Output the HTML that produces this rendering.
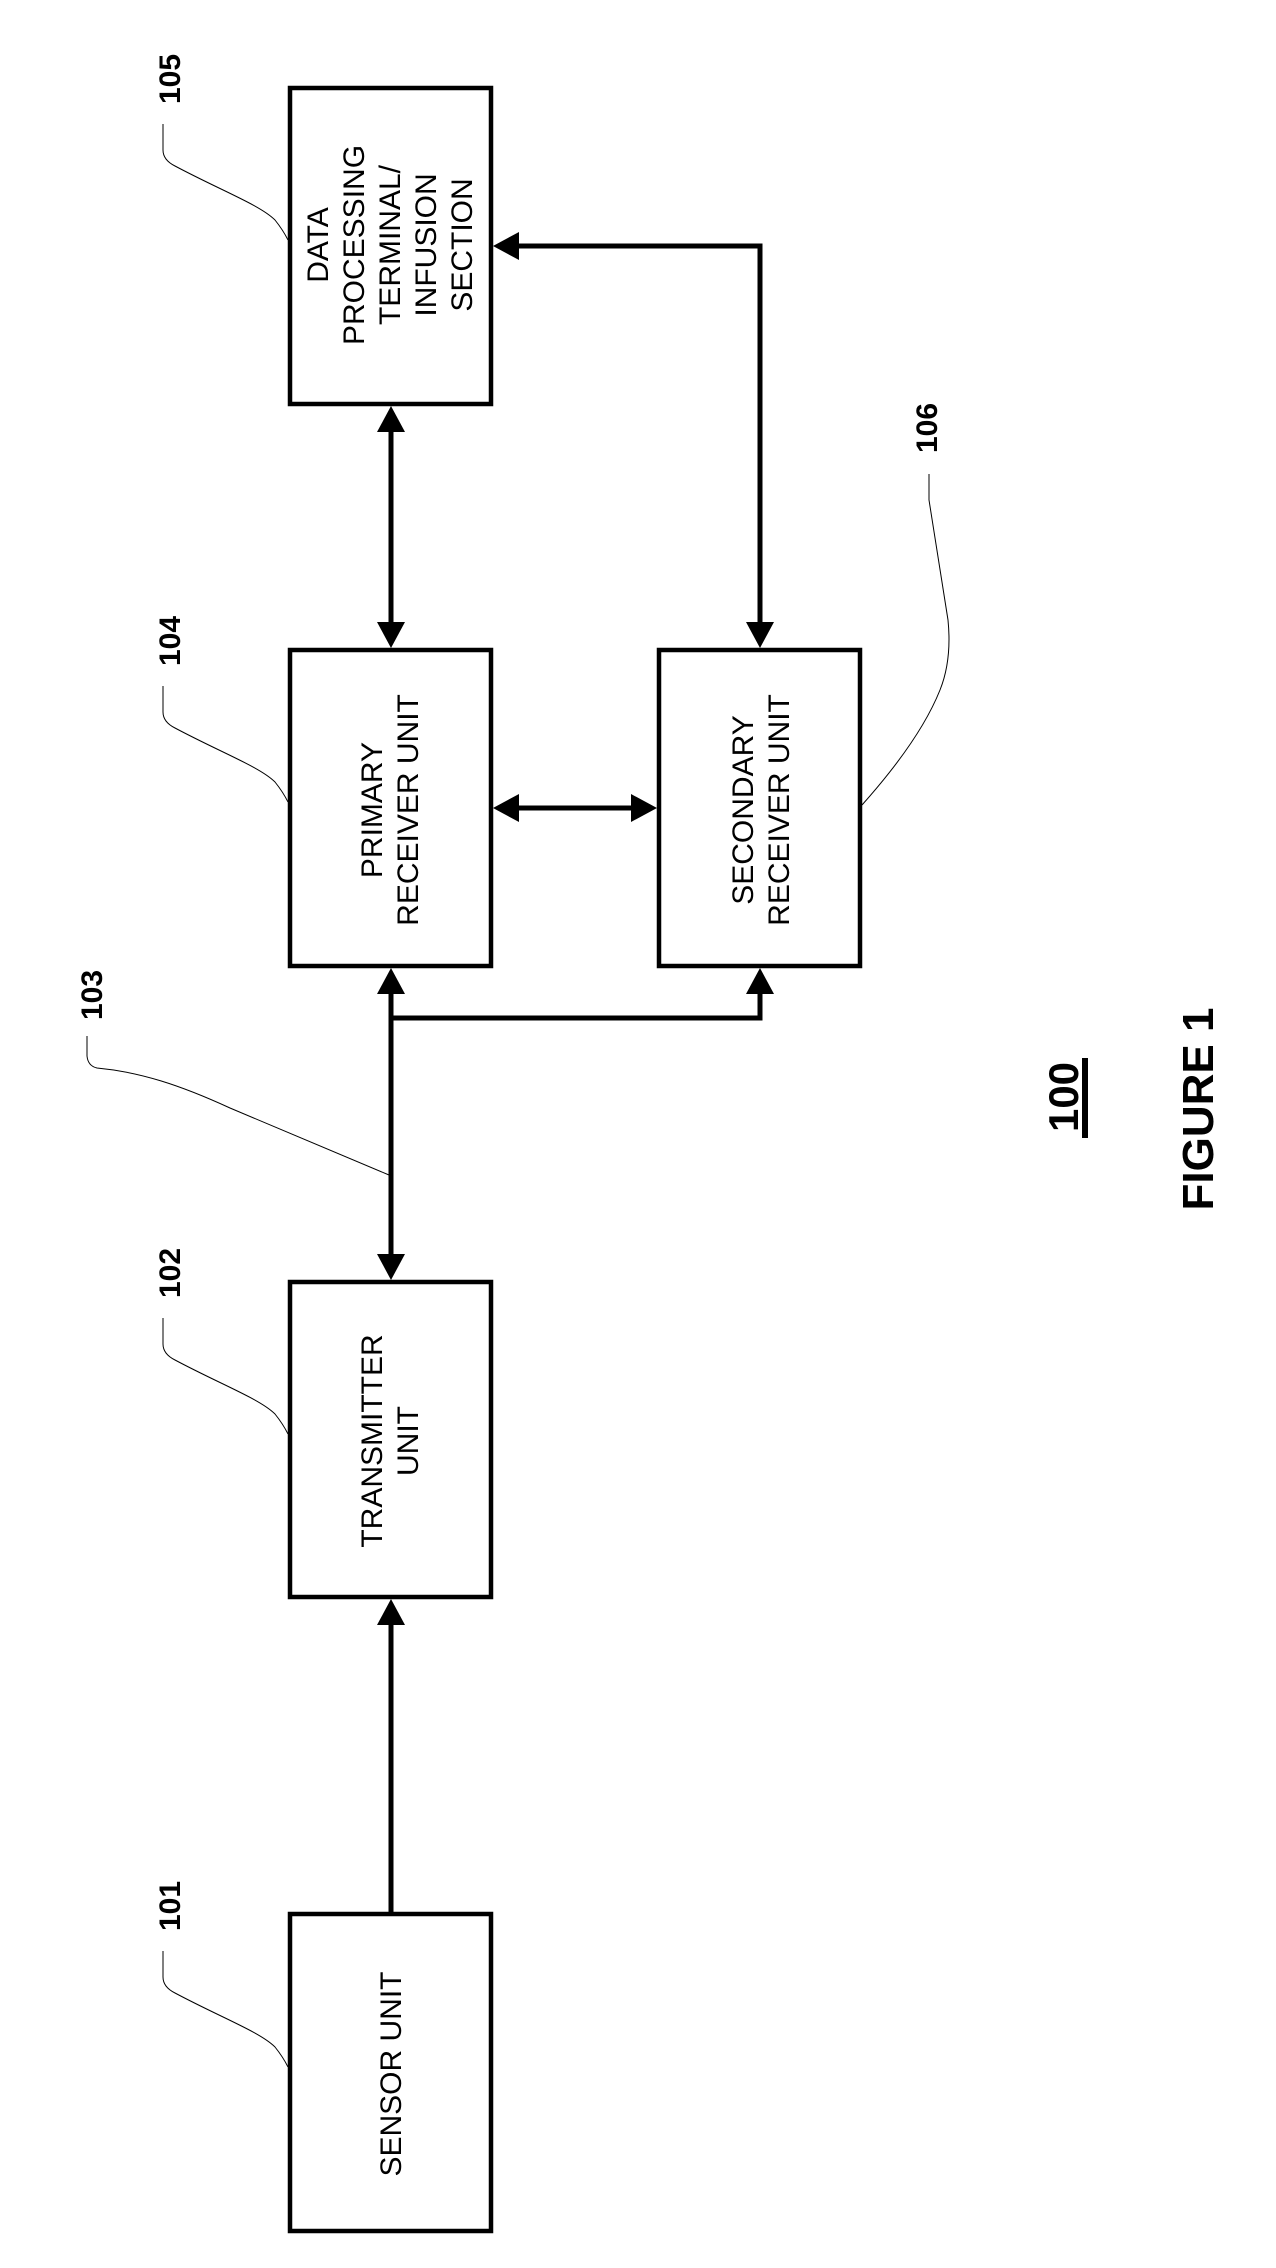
<!DOCTYPE html>
<html><head><meta charset="utf-8"><style>
html,body{margin:0;padding:0;background:#fff;}
svg{display:block;}
text{font-family:"Liberation Sans",Arial,sans-serif;fill:#000;}
.b{font-size:30px;}
.n{font-size:30px;font-weight:bold;}
</style></head><body>
<svg width="1276" height="2268" viewBox="0 0 1276 2268" xmlns="http://www.w3.org/2000/svg">
<g fill="none" stroke="#000" stroke-width="4.5">
<rect x="290" y="88" width="201" height="316"/>
<rect x="290" y="650" width="201" height="316"/>
<rect x="659" y="650" width="201" height="316"/>
<rect x="290" y="1282" width="201" height="315"/>
<rect x="290" y="1914" width="201" height="317"/>
</g>
<g stroke="#000" stroke-width="5" fill="none">
<line x1="391" y1="430" x2="391" y2="624"/>
<polyline points="517,246 760,246 760,624"/>
<line x1="517" y1="808" x2="633" y2="808"/>
<line x1="391" y1="992" x2="391" y2="1256"/>
<polyline points="391,1018 760,1018 760,992"/>
<line x1="391" y1="1914" x2="391" y2="1623"/>
</g>
<g fill="#000">
<polygon points="391,406 377,432 405,432"/>
<polygon points="391,648 377,622 405,622"/>
<polygon points="493,246 519,232 519,260"/>
<polygon points="760,648 746,622 774,622"/>
<polygon points="493,808 519,794 519,822"/>
<polygon points="657,808 631,794 631,822"/>
<polygon points="391,968 377,994 405,994"/>
<polygon points="760,968 746,994 774,994"/>
<polygon points="391,1280 377,1254 405,1254"/>
<polygon points="391,1599 377,1625 405,1625"/>
</g>
<g fill="none" stroke="#000" stroke-width="1">
<path d="M163,124 L163,150 Q163,160 175,166 C220,190 260,205 275,220 Q283,230 288,240"/>
<path d="M163,686 L163,712 Q163,722 175,728 C220,752 260,767 275,782 Q283,792 288,802"/>
<path d="M163,1318 L163,1344 Q163,1354 175,1360 C220,1384 260,1399 275,1414 Q283,1424 288,1434"/>
<path d="M163,1951 L163,1977 Q163,1987 175,1993 C220,2017 260,2032 275,2047 Q283,2057 288,2067"/>
<path d="M87,1036 L87,1056 Q88,1066 97,1068 C140,1072 180,1085 230,1108 L389,1175"/>
<path d="M929,474 L929,500 L948,620 Q952,660 940,690 Q920,740 862,805"/>
</g>
<g class="n">
<text transform="translate(180,79) rotate(-90)" text-anchor="middle">105</text>
<text transform="translate(180,641) rotate(-90)" text-anchor="middle">104</text>
<text transform="translate(937,428) rotate(-90)" text-anchor="middle">106</text>
<text transform="translate(102,995) rotate(-90)" text-anchor="middle">103</text>
<text transform="translate(180,1273) rotate(-90)" text-anchor="middle">102</text>
<text transform="translate(180,1906) rotate(-90)" text-anchor="middle">101</text>
</g>
<g class="b" text-anchor="middle">
<text transform="translate(328,245) rotate(-90)">DATA</text>
<text transform="translate(364,245) rotate(-90)">PROCESSING</text>
<text transform="translate(400,245) rotate(-90)">TERMINAL/</text>
<text transform="translate(436,245) rotate(-90)">INFUSION</text>
<text transform="translate(472,245) rotate(-90)">SECTION</text>
<text transform="translate(382,810) rotate(-90)">PRIMARY</text>
<text transform="translate(418,810) rotate(-90)">RECEIVER UNIT</text>
<text transform="translate(753,810) rotate(-90)">SECONDARY</text>
<text transform="translate(789,810) rotate(-90)">RECEIVER UNIT</text>
<text transform="translate(382,1441) rotate(-90)">TRANSMITTER</text>
<text transform="translate(418,1441) rotate(-90)">UNIT</text>
<text transform="translate(401,2074) rotate(-90)">SENSOR UNIT</text>
</g>
<text transform="translate(1078,1097) rotate(-90)" text-anchor="middle" style="font-size:42px;font-weight:bold">100</text>
<rect x="1082" y="1058" width="6" height="80" fill="#000"/>
<text transform="translate(1213,1109) rotate(-90)" text-anchor="middle" style="font-size:44px;font-weight:bold">FIGURE 1</text>
</svg>
</body></html>
